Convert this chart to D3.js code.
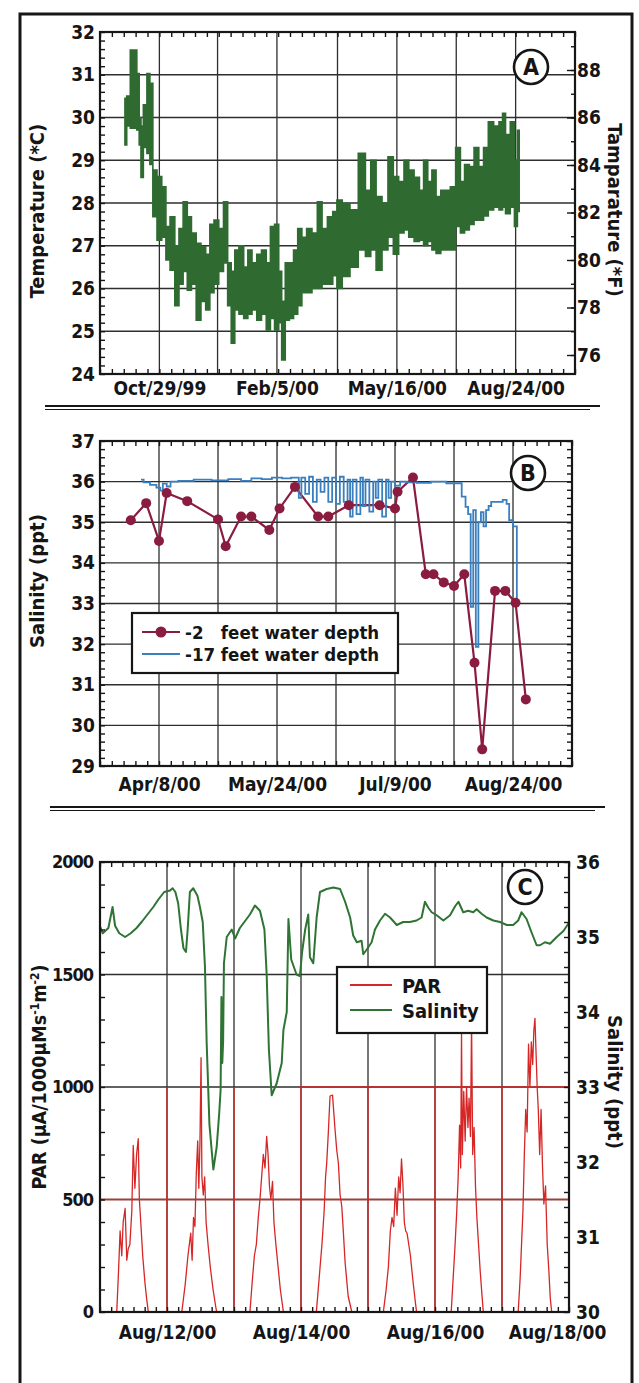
<!DOCTYPE html>
<html>
<head>
<meta charset="utf-8">
<script src="https://cdn.jsdelivr.net/npm/d3@7/dist/d3.min.js"></script>
<style>
  body { margin: 0; background: #fff; }
  text { font-family: "DejaVu Sans Condensed", "DejaVu Sans", sans-serif; font-weight: bold; fill: #151515; }
</style>
</head>
<body>
<div id="chart"></div>
<script>
// ---- Panel A: water temperature, low / high envelope (deg C)
var tempDates = [
  "1999-09-30","1999-10-03","1999-10-06","1999-10-09","1999-10-11","1999-10-13","1999-10-14","1999-10-17","1999-10-20","1999-10-22",
  "1999-10-25","1999-10-29","1999-11-02","1999-11-05","1999-11-09","1999-11-13","1999-11-16","1999-11-20","1999-11-23","1999-11-27",
  "1999-12-01","1999-12-05","1999-12-09","1999-12-12","1999-12-16","1999-12-20","1999-12-24","1999-12-27","1999-12-30","2000-01-02",
  "2000-01-06","2000-01-10","2000-01-13","2000-01-17","2000-01-21","2000-01-25","2000-01-29","2000-02-01","2000-02-05","2000-02-08",
  "2000-02-10","2000-02-14","2000-02-17","2000-02-21","2000-02-24","2000-02-28","2000-03-03","2000-03-08","2000-03-12","2000-03-16",
  "2000-03-21","2000-03-25","2000-03-28","2000-04-03","2000-04-10","2000-04-17","2000-04-22","2000-04-26","2000-05-01","2000-05-06",
  "2000-05-11","2000-05-15","2000-05-20","2000-05-24","2000-05-28","2000-06-02","2000-06-06","2000-06-09","2000-06-13","2000-06-16",
  "2000-06-20","2000-06-24","2000-06-28","2000-07-02","2000-07-07","2000-07-10","2000-07-14","2000-07-18","2000-07-22","2000-07-26",
  "2000-07-30","2000-08-03","2000-08-08","2000-08-12","2000-08-14","2000-08-17","2000-08-22","2000-08-24","2000-08-27"
];
var tempHigh = [
  30.45,30.5,31.58,31.58,31.03,30.0,29.8,30.3,31.03,30.8,
  28.77,28.62,28.38,27.45,27.68,27.0,27.4,28.03,27.68,27.3,
  27.06,26.98,26.8,27.5,27.6,27.4,28.03,26.6,26.4,26.9,
  27.0,26.5,26.9,26.6,26.8,26.9,26.6,27.45,27.5,26.4,
  25.7,26.6,26.6,26.9,27.4,27.2,27.4,27.3,28.03,27.4,
  27.68,27.8,28.07,27.99,27.84,29.16,28.3,29.0,28.15,28.0,
  29.08,28.62,28.5,29.0,28.77,28.6,28.3,29.0,28.5,28.77,
  28.15,28.3,28.3,28.38,29.3,28.5,28.9,28.85,29.3,28.85,
  29.3,29.9,29.8,29.9,30.1,29.6,29.9,29.0,29.7
];
var tempLow = [
  29.36,29.8,29.75,29.75,29.71,29.36,28.6,29.3,29.16,28.9,
  27.68,27.13,27.2,26.67,26.43,25.6,26.1,26.4,25.96,26.1,
  25.26,25.7,25.5,25.9,26.1,26.4,26.6,25.6,24.72,25.5,
  25.4,25.3,25.4,25.5,25.26,25.4,25.03,25.3,25.03,25.2,
  24.33,25.26,25.3,25.4,25.6,25.9,25.9,26.0,26.0,26.1,
  26.1,26.3,26.0,26.28,26.5,26.9,26.75,26.9,26.43,26.9,
  27.2,26.8,27.3,27.37,27.2,27.1,27.13,27.0,27.1,26.9,
  26.82,26.9,26.9,26.9,27.45,27.3,27.37,27.5,27.6,27.6,
  27.7,27.84,27.9,27.84,27.9,27.75,27.9,27.45,27.8
];
var tempTickDates = ["1999-10-29","2000-02-05","2000-05-16","2000-08-24"];
var tempTickLabels = ["Oct/29/99","Feb/5/00","May/16/00","Aug/24/00"];
var tempGridDates = ["1999-12-17","2000-03-27","2000-07-05"];

// ---- Panel B: salinity at two depths (ppt)
var shallowDates = [
  "2000-03-28","2000-04-03","2000-04-08","2000-04-11","2000-04-19","2000-05-01","2000-05-04","2000-05-10","2000-05-14","2000-05-21",
  "2000-05-25","2000-05-31","2000-06-09","2000-06-13","2000-06-21","2000-07-03","2000-07-09","2000-07-10","2000-07-16","2000-07-21",
  "2000-07-24","2000-07-28","2000-08-01","2000-08-05","2000-08-09","2000-08-12","2000-08-17","2000-08-21","2000-08-25","2000-08-29"
];
var shallowSalinity = [
  35.05,35.47,34.54,35.72,35.52,35.07,34.41,35.14,35.14,34.81,
  35.34,35.87,35.14,35.14,35.42,35.42,35.34,35.75,36.1,33.72,
  33.72,33.52,33.43,33.72,31.54,29.41,33.31,33.31,33.02,30.64
];
var deepDates = [
  "2000-04-01","2000-04-03","2000-04-06","2000-04-08","2000-04-09","2000-04-10","2000-04-12","2000-04-13","2000-04-18","2000-04-25",
  "2000-05-02","2000-05-08","2000-05-12","2000-05-16","2000-05-20","2000-05-24","2000-05-28","2000-05-31",
  "2000-06-01","2000-06-02","2000-06-03","2000-06-05","2000-06-06","2000-06-08","2000-06-09","2000-06-11","2000-06-12","2000-06-14",
  "2000-06-15","2000-06-17","2000-06-18","2000-06-20","2000-06-21","2000-06-22","2000-06-23","2000-06-25","2000-06-26","2000-06-27",
  "2000-06-28","2000-06-30","2000-07-01","2000-07-02","2000-07-03","2000-07-05","2000-07-06","2000-07-07","2000-07-08","2000-07-10",
  "2000-07-12",
  "2000-07-15","2000-07-20","2000-07-26","2000-08-01","2000-08-03","2000-08-05","2000-08-06","2000-08-07","2000-08-08","2000-08-09",
  "2000-08-10","2000-08-11","2000-08-12","2000-08-13","2000-08-14","2000-08-15","2000-08-16","2000-08-19","2000-08-21","2000-08-22",
  "2000-08-23","2000-08-25","2000-08-26"
];
var deepSalinity = [
  36.05,35.98,35.92,35.85,35.78,35.95,35.88,36.0,36.02,36.05,
  36.03,36.06,36.02,36.08,36.06,36.1,36.08,36.1,
  36.1,35.6,36.1,35.7,36.12,35.5,36.05,35.75,36.1,35.5,
  36.1,35.45,36.12,35.5,36.05,35.14,36.05,35.2,36.1,35.4,
  36.05,35.26,36.0,35.6,36.05,35.14,36.05,35.6,36.0,35.9,
  36.0,
  35.98,35.97,36.0,35.96,35.96,35.63,35.38,35.2,32.92,35.3,
  31.93,35.0,35.25,34.9,35.3,35.4,35.5,35.5,35.55,35.45,
  35.05,34.9,33.08
];
var salTickLabels = ["Apr/8/00","May/24/00","Jul/9/00","Aug/24/00"];
var seriesNamesB = ["-2   feet water depth","-17 feet water depth"];

// ---- Panel C: PAR and salinity, Aug 11-18 2000 (hours from Aug 11 00:00)
var parHours = [
  0,6.0,6.6,7.2,7.8,8.3,9.0,9.6,10.1,10.7,11.4,11.9,12.5,13.1,13.7,14.1,14.6,15.3,16.1,16.7,17.3,
  29.3,30.5,31.5,32.5,33.0,33.5,34.0,34.5,35.0,35.4,35.8,36.2,36.5,37.0,37.5,38.0,38.7,39.5,40.5,41.5,41.8,
  53.7,54.5,55.3,56.0,56.7,57.3,57.9,58.5,59.1,59.7,60.2,60.7,61.2,61.8,62.3,63.0,63.8,64.6,65.7,
  77.5,78.5,79.5,80.3,80.8,81.2,81.8,82.4,83.3,84.2,84.8,85.4,86.0,86.6,87.2,87.8,88.9,90.2,
  101.5,102.5,103.3,104.0,104.6,105.2,105.8,106.4,107.0,107.5,108.0,108.5,109.0,109.5,110.0,110.6,111.2,112.0,113.0,113.4,
  125.8,126.5,127.2,127.8,128.3,128.8,129.2,129.5,129.8,130.3,130.8,131.3,131.8,132.2,132.7,133.1,133.5,134.0,134.5,135.0,135.6,136.2,136.8,137.3,
  149.8,150.5,151.0,151.5,152.0,152.5,153.0,153.5,154.0,154.5,155.0,155.4,155.8,156.2,156.6,157.0,157.5,158.0,158.5,159.0,159.6,160.2,160.8,161.3,161.8,168
];
var parValues = [
  0,0,170,360,250,400,460,230,280,300,450,740,550,700,770,500,400,250,130,60,0,
  0,120,250,350,230,420,380,620,760,550,750,1130,600,520,600,400,300,200,100,20,0,
  0,130,250,300,420,500,600,700,640,780,700,560,500,580,400,300,200,100,0,
  0,150,300,450,600,660,800,960,964,810,720,660,520,470,350,220,70,0,
  0,100,200,360,420,380,550,430,600,530,680,570,400,360,350,300,250,150,40,0,
  0,150,300,450,600,830,640,1240,700,980,760,1000,820,950,780,1284,700,820,560,420,300,180,80,0,
  0,150,300,450,700,900,800,1190,1000,1200,1100,1250,1305,1150,1000,900,700,900,650,480,560,300,180,60,0,0
];
var salCHours = [
  0,1,3,4.5,5.4,6.9,9,11,13.1,14.9,17,19.1,20.9,23,25.1,26,27,28,29,29.9,
  30.8,31.4,32.2,33.4,34.9,35.8,36.8,37.6,38.2,39.2,40.6,41.8,42.7,43.2,43.5,43.8,44.1,44.4,45.4,47.2,
  48.4,50.1,53.7,55.5,57.3,58.9,59.7,60.5,61.5,63.3,65.1,65.7,66.9,67.5,68.5,70.4,71.6,72.4,73.5,74.6,
  75.2,76.4,77.6,78.8,81.2,83.6,86,87.8,89.6,90.7,92,93.7,94.3,95.5,97.3,98.5,100.3,102.1,103.9,106.3,
  108.6,111,113.4,115.2,116.4,117.6,118.8,120.6,123,125.4,127.2,128.4,130.1,131.9,133.7,134.9,136.7,138.5,140.9,143.3,
  145.7,148,149.8,151,152.8,154.6,156.4,157.6,159.4,161.2,163.6,166,167.8,168
];
var salCValues = [
  35.14,35.05,35.12,35.4,35.15,35.05,35.0,35.05,35.12,35.2,35.3,35.4,35.5,35.6,35.62,35.65,35.6,35.45,35.1,34.85,
  34.8,35.1,35.6,35.65,35.55,35.4,35.2,34.6,33.6,32.5,31.9,32.2,32.65,32.96,34.2,33.32,33.6,34.65,35.0,35.1,
  34.98,35.12,35.3,35.42,35.35,35.1,34.5,33.5,32.89,33.05,33.32,33.76,34.0,35.24,34.7,34.5,34.48,34.8,35.1,35.3,
  34.73,34.65,35.26,35.6,35.64,35.66,35.64,35.47,35.26,35.02,34.93,34.95,34.77,34.83,34.93,35.1,35.22,35.31,35.26,35.16,
  35.2,35.2,35.22,35.26,35.47,35.39,35.33,35.29,35.22,35.29,35.41,35.47,35.33,35.35,35.33,35.37,35.31,35.26,35.22,35.2,
  35.16,35.16,35.22,35.33,35.24,35.06,34.89,34.89,34.93,34.91,35.0,35.08,35.18,35.2
];
var parTickDates = ["2000-08-12","2000-08-14","2000-08-16","2000-08-18"];
var parTickLabels = ["Aug/12/00","Aug/14/00","Aug/16/00","Aug/18/00"];
var seriesNamesC = ["PAR","Salinity"];

var INK = "#161616", GRID = "#2e2e2e";
var GREEN = "#2f6b31", GREEN_C = "#2f7434", BLUE = "#3a7fbe", MAROON = "#8a1c40", RED = "#d62626";

var svg = d3.select("#chart").append("svg").attr("width", 639).attr("height", 1383);
var parseDay = d3.timeParse("%Y-%m-%d");

var axisFor = {left: d3.axisLeft, right: d3.axisRight, top: d3.axisTop, bottom: d3.axisBottom};

// inward tick marks, no labels
function tickMarks(scale, orient, pos, values, size) {
  var vert = orient === "left" || orient === "right";
  svg.append("g")
      .attr("transform", vert ? "translate(" + pos + ",0)" : "translate(0," + pos + ")")
      .call(axisFor[orient](scale).tickValues(values).tickSize(-size).tickFormat(""))
      .call(function(g) {
        g.select(".domain").remove();
        g.selectAll("line").attr("stroke", INK).attr("stroke-width", 1.4);
      });
}

function tickLabels(scale, orient, pos, values, fmt, pad, size, spacing) {
  var vert = orient === "left" || orient === "right";
  return svg.append("g")
      .attr("transform", vert ? "translate(" + pos + ",0)" : "translate(0," + pos + ")")
      .call(axisFor[orient](scale).tickValues(values).tickSize(0).tickPadding(pad).tickFormat(fmt))
      .call(function(g) {
        g.select(".domain").remove();
        g.attr("font-family", null).attr("font-size", null);
        g.selectAll("text").style("font-size", size + "px").style("letter-spacing", (spacing || 0) + "px");
      });
}

function vGrid(xs, vals, y1, y2, color) {
  svg.append("g").selectAll("line").data(vals).join("line")
      .attr("x1", function(d) { return xs(d); }).attr("x2", function(d) { return xs(d); })
      .attr("y1", y1).attr("y2", y2)
      .attr("stroke", color).attr("stroke-width", 1.3);
}
function hGrid(ys, vals, x1, x2, color) {
  svg.append("g").selectAll("line").data(vals).join("line")
      .attr("y1", function(d) { return ys(d); }).attr("y2", function(d) { return ys(d); })
      .attr("x1", x1).attr("x2", x2)
      .attr("stroke", color).attr("stroke-width", 1.3);
}
function border(x1, y1, x2, y2) {
  svg.append("rect").attr("x", x1).attr("y", y1).attr("width", x2 - x1).attr("height", y2 - y1)
      .attr("fill", "none").attr("stroke", INK).attr("stroke-width", 2.2);
}
function panelBadge(cx, cy, letter) {
  svg.append("circle").attr("cx", cx).attr("cy", cy).attr("r", 17)
      .attr("fill", "#fff").attr("stroke", INK).attr("stroke-width", 2.6);
  svg.append("text").attr("x", cx).attr("y", cy + 8).attr("text-anchor", "middle")
      .style("font-size", "23px").text(letter);
}
function vTitle(x, y, angle, label, size) {
  return svg.append("text").attr("transform", "translate(" + x + "," + y + ")rotate(" + angle + ")")
      .attr("text-anchor", "middle").style("font-size", (size || 19) + "px").text(label);
}

// ---- outer frame and separators
svg.append("path").attr("d", "M20,1383V14H632V1383").attr("fill", "none")
    .attr("stroke", INK).attr("stroke-width", 3);
[[406, 45, 600], [807, 50, 605]].forEach(function(s) {
  svg.append("line").attr("x1", s[1]).attr("x2", s[2]).attr("y1", s[0]).attr("y2", s[0])
      .attr("stroke", INK).attr("stroke-width", 2.2);
  svg.append("line").attr("x1", s[1]).attr("x2", s[2] - 10).attr("y1", s[0] + 3.5).attr("y2", s[0] + 3.5)
      .attr("stroke", INK).attr("stroke-width", 1);
});

// =================== Panel A ===================
var a0 = parseDay("1999-09-09"), a1 = parseDay("2000-10-13");
var xA = d3.scaleTime().domain([a0, a1]).range([100, 575]);
var yA = d3.scaleLinear().domain([24, 32]).range([374, 32]);
var yAF = d3.scaleLinear().domain([24 * 1.8 + 32, 32 * 1.8 + 32]).range([374, 32]);

var aLabelDates = tempTickDates.map(parseDay);
vGrid(xA, aLabelDates.concat(tempGridDates.map(parseDay)), 32, 374, GRID);
hGrid(yA, d3.range(25, 32), 100, 575, GRID);

var tempRows = tempDates.map(function(d, i) { return {date: parseDay(d), lo: tempLow[i], hi: tempHigh[i]}; });
svg.append("path").datum(tempRows)
    .attr("d", d3.area().curve(d3.curveStep)
      .x(function(d) { return xA(d.date); })
      .y0(function(d) { return yA(d.lo); })
      .y1(function(d) { return yA(d.hi); }))
    .attr("fill", GREEN).attr("stroke", GREEN).attr("stroke-width", 1.6).attr("stroke-linejoin", "miter");

var aMinor = d3.range(0, 401, 10).map(function(k) { return d3.timeDay.offset(a0, k); });
tickMarks(xA, "bottom", 374, aMinor, 5);
tickMarks(xA, "top", 32, aMinor, 5);
tickMarks(yA, "left", 100, d3.range(24, 32.001, 0.2), 5);
tickMarks(yAF, "right", 575, d3.range(76, 89.5, 1), 4);
tickMarks(yAF, "right", 575, d3.range(76, 89, 2), 8);
border(100, 32, 575, 374);

tickLabels(yA, "left", 100, d3.range(24, 33), d3.format("d"), 5, 19);
tickLabels(yAF, "right", 575, d3.range(76, 89, 2), d3.format("d"), 2, 19);
tickLabels(xA, "bottom", 374, aLabelDates, function(d, i) { return tempTickLabels[i]; }, 8, 19);
vTitle(44, 211, -90, "Temperature (*C)", 20);
vTitle(608, 210, 90, "Tamparature (*F)", 20);
panelBadge(531, 67, "A");

// =================== Panel B ===================
var b0 = parseDay("2000-03-16"), b1 = parseDay("2000-09-16");
var xB = d3.scaleTime().domain([b0, b1]).range([100, 572]);
var yB = d3.scaleLinear().domain([29, 37]).range([766, 441]);

var bGrid = d3.range(1, 8).map(function(k) { return d3.timeDay.offset(b0, 23 * k); });
vGrid(xB, bGrid, 441, 766, GRID);
hGrid(yB, d3.range(30, 37), 100, 572, GRID);

var deepRows = deepDates.map(function(d, i) { return {date: parseDay(d), v: deepSalinity[i]}; });
var shallowRows = shallowDates.map(function(d, i) { return {date: parseDay(d), v: shallowSalinity[i]}; });
var lineB = d3.line().x(function(d) { return xB(d.date); }).y(function(d) { return yB(d.v); });

svg.append("path").datum(shallowRows).attr("d", lineB)
    .attr("fill", "none").attr("stroke", MAROON).attr("stroke-width", 2.2);
svg.append("path").datum(deepRows).attr("d", lineB.curve(d3.curveStep))
    .attr("fill", "none").attr("stroke", BLUE).attr("stroke-width", 1.8);
svg.append("g").selectAll("circle").data(shallowRows).join("circle")
    .attr("cx", function(d) { return xB(d.date); }).attr("cy", function(d) { return yB(d.v); })
    .attr("r", 5).attr("fill", MAROON);

var bMinor = d3.range(0, 41).map(function(k) { return new Date(+b0 + k * 4.6 * 864e5); });
tickMarks(xB, "bottom", 766, bMinor, 5);
tickMarks(xB, "top", 441, bMinor, 5);
tickMarks(yB, "left", 100, d3.range(29, 37.001, 0.2), 5);
tickMarks(yB, "right", 572, d3.range(29, 37.001, 0.2), 5);
border(100, 441, 572, 766);

tickLabels(yB, "left", 100, d3.range(29, 38), d3.format("d"), 5, 19);
tickLabels(xB, "bottom", 766, [bGrid[0], bGrid[2], bGrid[4], bGrid[6]],
    function(d, i) { return salTickLabels[i]; }, 12, 19);
vTitle(44, 581, -90, "Salinity (ppt)", 20);
panelBadge(528, 473, "B");

// legend B
svg.append("rect").attr("x", 132).attr("y", 613).attr("width", 266).attr("height", 60)
    .attr("fill", "#fff").attr("stroke", INK).attr("stroke-width", 2.2);
[[632, MAROON, true], [654, BLUE, false]].forEach(function(r, i) {
  svg.append("line").attr("x1", 142).attr("x2", 180).attr("y1", r[0]).attr("y2", r[0])
      .attr("stroke", r[1]).attr("stroke-width", 2.2);
  if (r[2]) svg.append("circle").attr("cx", 161).attr("cy", r[0]).attr("r", 5.5).attr("fill", r[1]);
  svg.append("text").attr("x", 185).attr("y", r[0] + 7).style("font-size", "18.5px")
      .style("white-space", "pre").text(seriesNamesB[i]);
});

// =================== Panel C ===================
var c0 = parseDay("2000-08-11"), c1 = parseDay("2000-08-18");
var xC = d3.scaleTime().domain([c0, c1]).range([100, 569]);
var yPar = d3.scaleLinear().domain([0, 2000]).range([1312, 862]);
var ySalC = d3.scaleLinear().domain([30, 36]).range([1312, 862]);
function atHour(h) { return d3.timeMinute.offset(c0, Math.round(h * 60)); }

var cGrid = d3.range(1, 7).map(function(k) { return d3.timeDay.offset(c0, k); });
vGrid(xC, cGrid, 862, 1312, GRID);
hGrid(yPar, [500, 1000, 1500], 100, 569, GRID);
// PAR (left-axis) grid printed in red over the lower part
vGrid(xC, cGrid, yPar(1000), 1312, RED);
hGrid(yPar, [500], 100, 569, RED);
svg.append("line").attr("x1", 300).attr("x2", 569).attr("y1", yPar(1000)).attr("y2", yPar(1000))
    .attr("stroke", RED).attr("stroke-width", 1.3);

var parRows = parHours.map(function(h, i) { return {t: atHour(h), v: parValues[i]}; });
var salRows = salCHours.map(function(h, i) { return {t: atHour(h), v: salCValues[i]}; });

svg.append("path").datum(parRows)
    .attr("d", d3.line().x(function(d) { return xC(d.t); }).y(function(d) { return yPar(d.v); }))
    .attr("fill", "none").attr("stroke", RED).attr("stroke-width", 1.3).attr("stroke-linejoin", "round");
svg.append("path").datum(salRows)
    .attr("d", d3.line().x(function(d) { return xC(d.t); }).y(function(d) { return ySalC(d.v); }))
    .attr("fill", "none").attr("stroke", GREEN_C).attr("stroke-width", 2).attr("stroke-linejoin", "round");

var cMinor = d3.range(0, 43).map(function(k) { return d3.timeHour.offset(c0, 4 * k); });
tickMarks(xC, "bottom", 1312, cMinor, 5);
tickMarks(xC, "top", 862, cMinor, 5);
tickMarks(yPar, "left", 100, d3.range(0, 2001, 100), 5);
tickMarks(ySalC, "right", 569, d3.range(30, 36.001, 0.2), 5);
border(100, 862, 569, 1312);

tickLabels(yPar, "left", 100, d3.range(0, 2001, 500), d3.format("d"), 7, 18, -1);
tickLabels(ySalC, "right", 569, d3.range(30, 37), d3.format("d"), 7, 19);
var cLab = tickLabels(xC, "bottom", 1312, parTickDates.map(parseDay),
    function(d, i) { return parTickLabels[i]; }, 14, 19);
cLab.selectAll(".tick").filter(function(d, i) { return i === 3; }).select("text").attr("x", -12);

var parTitle = svg.append("text").attr("transform", "translate(46,1077)rotate(-90)")
    .attr("text-anchor", "middle").style("font-size", "19.5px");
parTitle.append("tspan").text("PAR (\u00b5A/1000\u00b5Ms");
parTitle.append("tspan").attr("dy", -7).style("font-size", "12px").text("-1");
parTitle.append("tspan").attr("dy", 7).text("m");
parTitle.append("tspan").attr("dy", -7).style("font-size", "12px").text("-2");
parTitle.append("tspan").attr("dy", 7).text(")");
vTitle(608, 1082, 90, "Salinity (ppt)", 20);
panelBadge(525, 887, "C");

// legend C
svg.append("rect").attr("x", 337).attr("y", 967).attr("width", 150).attr("height", 66)
    .attr("fill", "#fff").attr("stroke", INK).attr("stroke-width", 2.2);
[[985, RED], [1010, GREEN_C]].forEach(function(r, i) {
  svg.append("line").attr("x1", 350).attr("x2", 392).attr("y1", r[0]).attr("y2", r[0])
      .attr("stroke", r[1]).attr("stroke-width", 2);
  svg.append("text").attr("x", 402).attr("y", r[0] + 8).style("font-size", "20px").text(seriesNamesC[i]);
});
</script>
</body>
</html>
